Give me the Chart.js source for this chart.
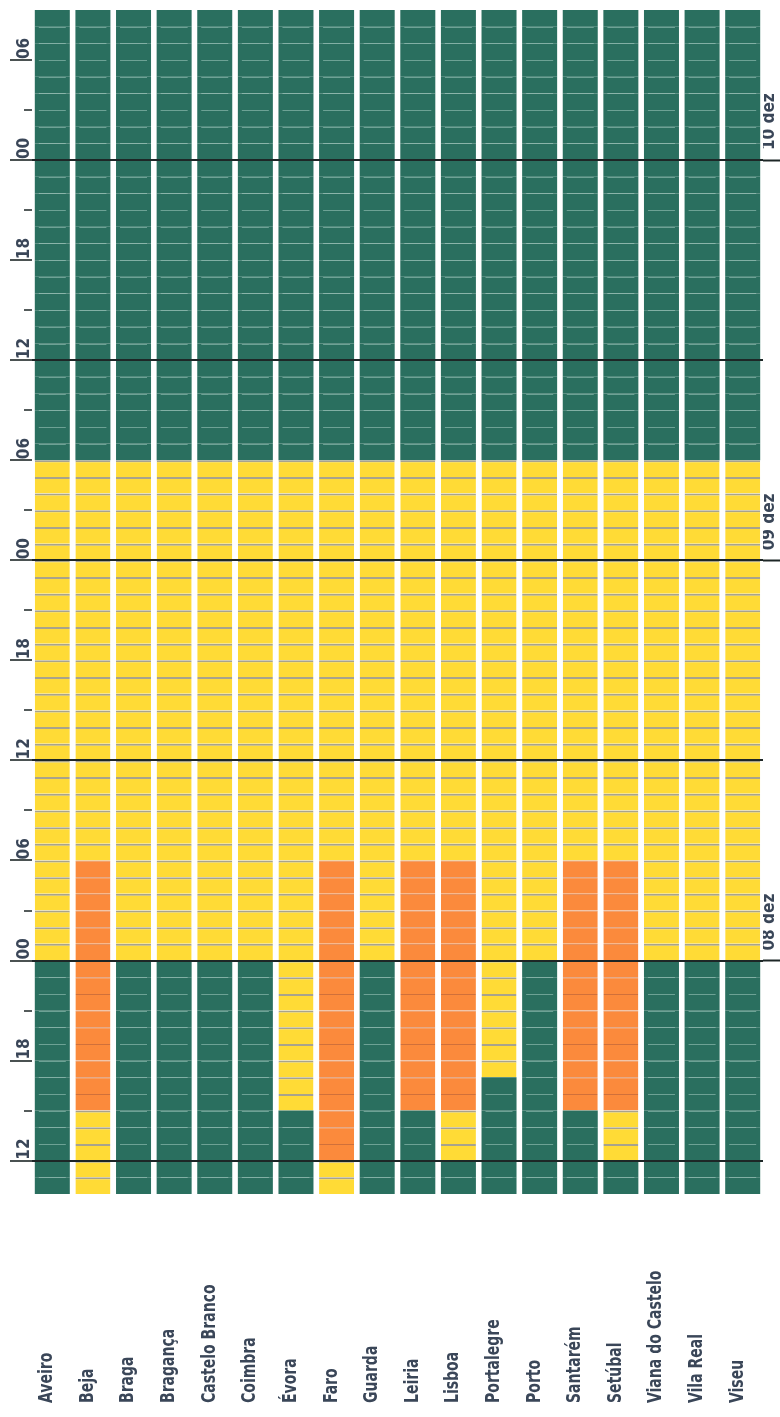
<!DOCTYPE html>
<html>
<head>
<meta charset="utf-8">
<script src="https://cdn.jsdelivr.net/npm/chart.js@4.4.1/dist/chart.umd.min.js"></script>
<style>
  html, body { margin: 0; padding: 0; background: #ffffff; }
  #wrap { width: 780px; height: 1417px; position: relative; }
</style>
</head>
<body>
<div id="wrap"><canvas id="c"></canvas></div>
<script>
// ---- DATA (hours counted from 07 dez 00:00) ----
const districts = ['Aveiro','Beja','Braga','Bragança','Castelo Branco','Coimbra','Évora','Faro','Guarda','Leiria','Lisboa','Portalegre','Porto','Santarém','Setúbal','Viana do Castelo','Vila Real','Viseu'];
const firstHour = 10;   // 07 dez 10:00
const lastHour  = 81;   // 10 dez 09:00
const yellowStart = [24, 10, 24, 24, 24, 24, 15, 10, 24, 15, 12, 17, 24, 15, 12, 24, 24, 24];
const yellowEnd   = [54, 54, 54, 54, 54, 54, 54, 54, 54, 54, 54, 54, 54, 54, 54, 54, 54, 54];
const orangeStart = [null, 15, null, null, null, null, null, 12, null, 15, 15, null, null, 15, 15, null, null, null];
const orangeEnd   = [null, 30, null, null, null, null, null, 30, null, 30, 30, null, null, 30, 30, null, null, null];
const hourTicks      = [12, 15, 18, 21, 24, 27, 30, 33, 36, 39, 42, 45, 48, 51, 54, 57, 60, 63, 66, 69, 72, 75, 78];
const hourTickLabels = ['12','','18','','00','','06','','12','','18','','00','','06','','12','','18','','00','','06'];
const dayTicks  = [24, 48, 72];
const dayLabels = ['08 dez', '09 dez', '10 dez'];

// ---- STYLE ----
const FONT = "'Liberation Sans Narrow', 'DejaVu Sans Condensed', sans-serif";
const TEXT = '#3a4658';
const DARK = '#1d2626';
const fills   = ['#2a6f5f', '#ffdb36', '#fb8a3c'];
const seps    = ['#2a6f5f', '#a8a38c', '#d0703a'];
const sepW    = [0, 2, 1];
const greenLine = 'rgba(190,225,215,0.45)';

function level(d, h) {
  if (orangeStart[d] !== null && h >= orangeStart[d] && h < orangeEnd[d]) return 2;
  if (h >= yellowStart[d] && h < yellowEnd[d]) return 1;
  return 0;
}

const datasets = [];
for (let h = firstHour; h < lastHour; h++) {
  const lv = districts.map((_, d) => level(d, h));
  datasets.push({
    data: districts.map(() => [h, h + 1]),
    backgroundColor: lv.map(l => fills[l]),
    borderColor: lv.map(l => seps[l]),
    borderWidth: lv.map(l => ({ top: sepW[l], right: 0, bottom: 0, left: 0 })),
    borderSkipped: false,
    grouped: false,
    barPercentage: 0.862,
    categoryPercentage: 1.0
  });
}

// faint inset hour separators inside the green (no-warning) cells
const greenSeparatorPlugin = {
  id: 'greenSeparators',
  afterDatasetsDraw(chart) {
    const { ctx } = chart;
    const x = chart.scales.x, y = chart.scales.y;
    const half = chart.getDatasetMeta(0).data[0].width / 2;
    ctx.save();
    ctx.strokeStyle = greenLine;
    ctx.lineWidth = 1;
    districts.forEach((_, d) => {
      const px = x.getPixelForValue(d);
      for (let h = firstHour + 1; h < lastHour; h++) {
        if (h % 12 === 0) continue;
        if (level(d, h) !== 0 || level(d, h - 1) !== 0) continue;
        const py = Math.round(y.getPixelForValue(h)) + 0.5;
        ctx.beginPath();
        ctx.moveTo(px - half + 4, py);
        ctx.lineTo(px + half - 4, py);
        ctx.stroke();
      }
    });
    ctx.restore();
  }
};

const districtLabelPlugin = {
  id: 'districtLabels',
  afterDraw(chart) {
    const { ctx } = chart;
    const x = chart.scales.x;
    ctx.save();
    ctx.font = 'bold 19px ' + FONT;
    ctx.fillStyle = TEXT;
    ctx.textAlign = 'left';
    ctx.textBaseline = 'middle';
    districts.forEach((name, i) => {
      const px = x.getPixelForValue(i);
      ctx.save();
      ctx.translate(px - 5, x.bottom - 14);
      ctx.rotate(-Math.PI / 2);
      ctx.scale(0.82, 1);
      ctx.fillText(name, 0, 0);
      ctx.restore();
    });
    ctx.restore();
  }
};

Chart.defaults.font.family = FONT;

new Chart(document.getElementById('c'), {
  type: 'bar',
  data: { labels: districts, datasets },
  options: {
    responsive: true,
    maintainAspectRatio: false,
    animation: false,
    layout: { padding: { top: 10, left: 0, right: 0, bottom: 0 } },
    plugins: { legend: { display: false }, tooltip: { enabled: false } },
    scales: {
      x: {
        type: 'category',
        offset: true,
        grid: { display: false },
        border: { display: false },
        ticks: { display: false },
        afterFit: s => { s.height = 223; }
      },
      y: {
        type: 'linear',
        position: 'left',
        min: firstHour,
        max: lastHour,
        afterBuildTicks: s => { s.ticks = hourTicks.map(v => ({ value: v })); },
        border: { display: false },
        grid: {
          z: 1,
          color: c => (c.tick && c.tick.value % 12 === 0) ? DARK : 'rgba(0,0,0,0)',
          lineWidth: 2,
          tickLength: 22,
          tickColor: DARK,
          tickWidth: 1.6,
          tickBorderDash: c => (c.tick && c.tick.value % 6 === 3) ? [0, 14, 8, 100] : []
        },
        ticks: {
          autoSkip: false,
          minRotation: 90,
          maxRotation: 90,
          mirror: true,
          padding: -7,
          crossAlign: 'near',
          labelOffset: -1,
          color: TEXT,
          font: { size: 17, weight: 'bold' },
          callback: (v, i) => hourTickLabels[i]
        },
        afterFit: s => { s.width = 32; }
      },
      y2: {
        type: 'linear',
        position: 'right',
        min: firstHour,
        max: lastHour,
        afterBuildTicks: s => { s.ticks = dayTicks.map(v => ({ value: v })); },
        border: { display: false },
        grid: {
          drawOnChartArea: false,
          tickLength: 17,
          tickColor: DARK,
          tickWidth: 2
        },
        ticks: {
          autoSkip: false,
          minRotation: 90,
          maxRotation: 90,
          padding: -10,
          crossAlign: 'near',
          labelOffset: -10,
          color: TEXT,
          font: { size: 17, weight: 'bold' },
          callback: (v, i) => dayLabels[i]
        },
        afterFit: s => { s.width = 17; }
      }
    }
  },
  plugins: [greenSeparatorPlugin, districtLabelPlugin]
});
</script>
</body>
</html>
